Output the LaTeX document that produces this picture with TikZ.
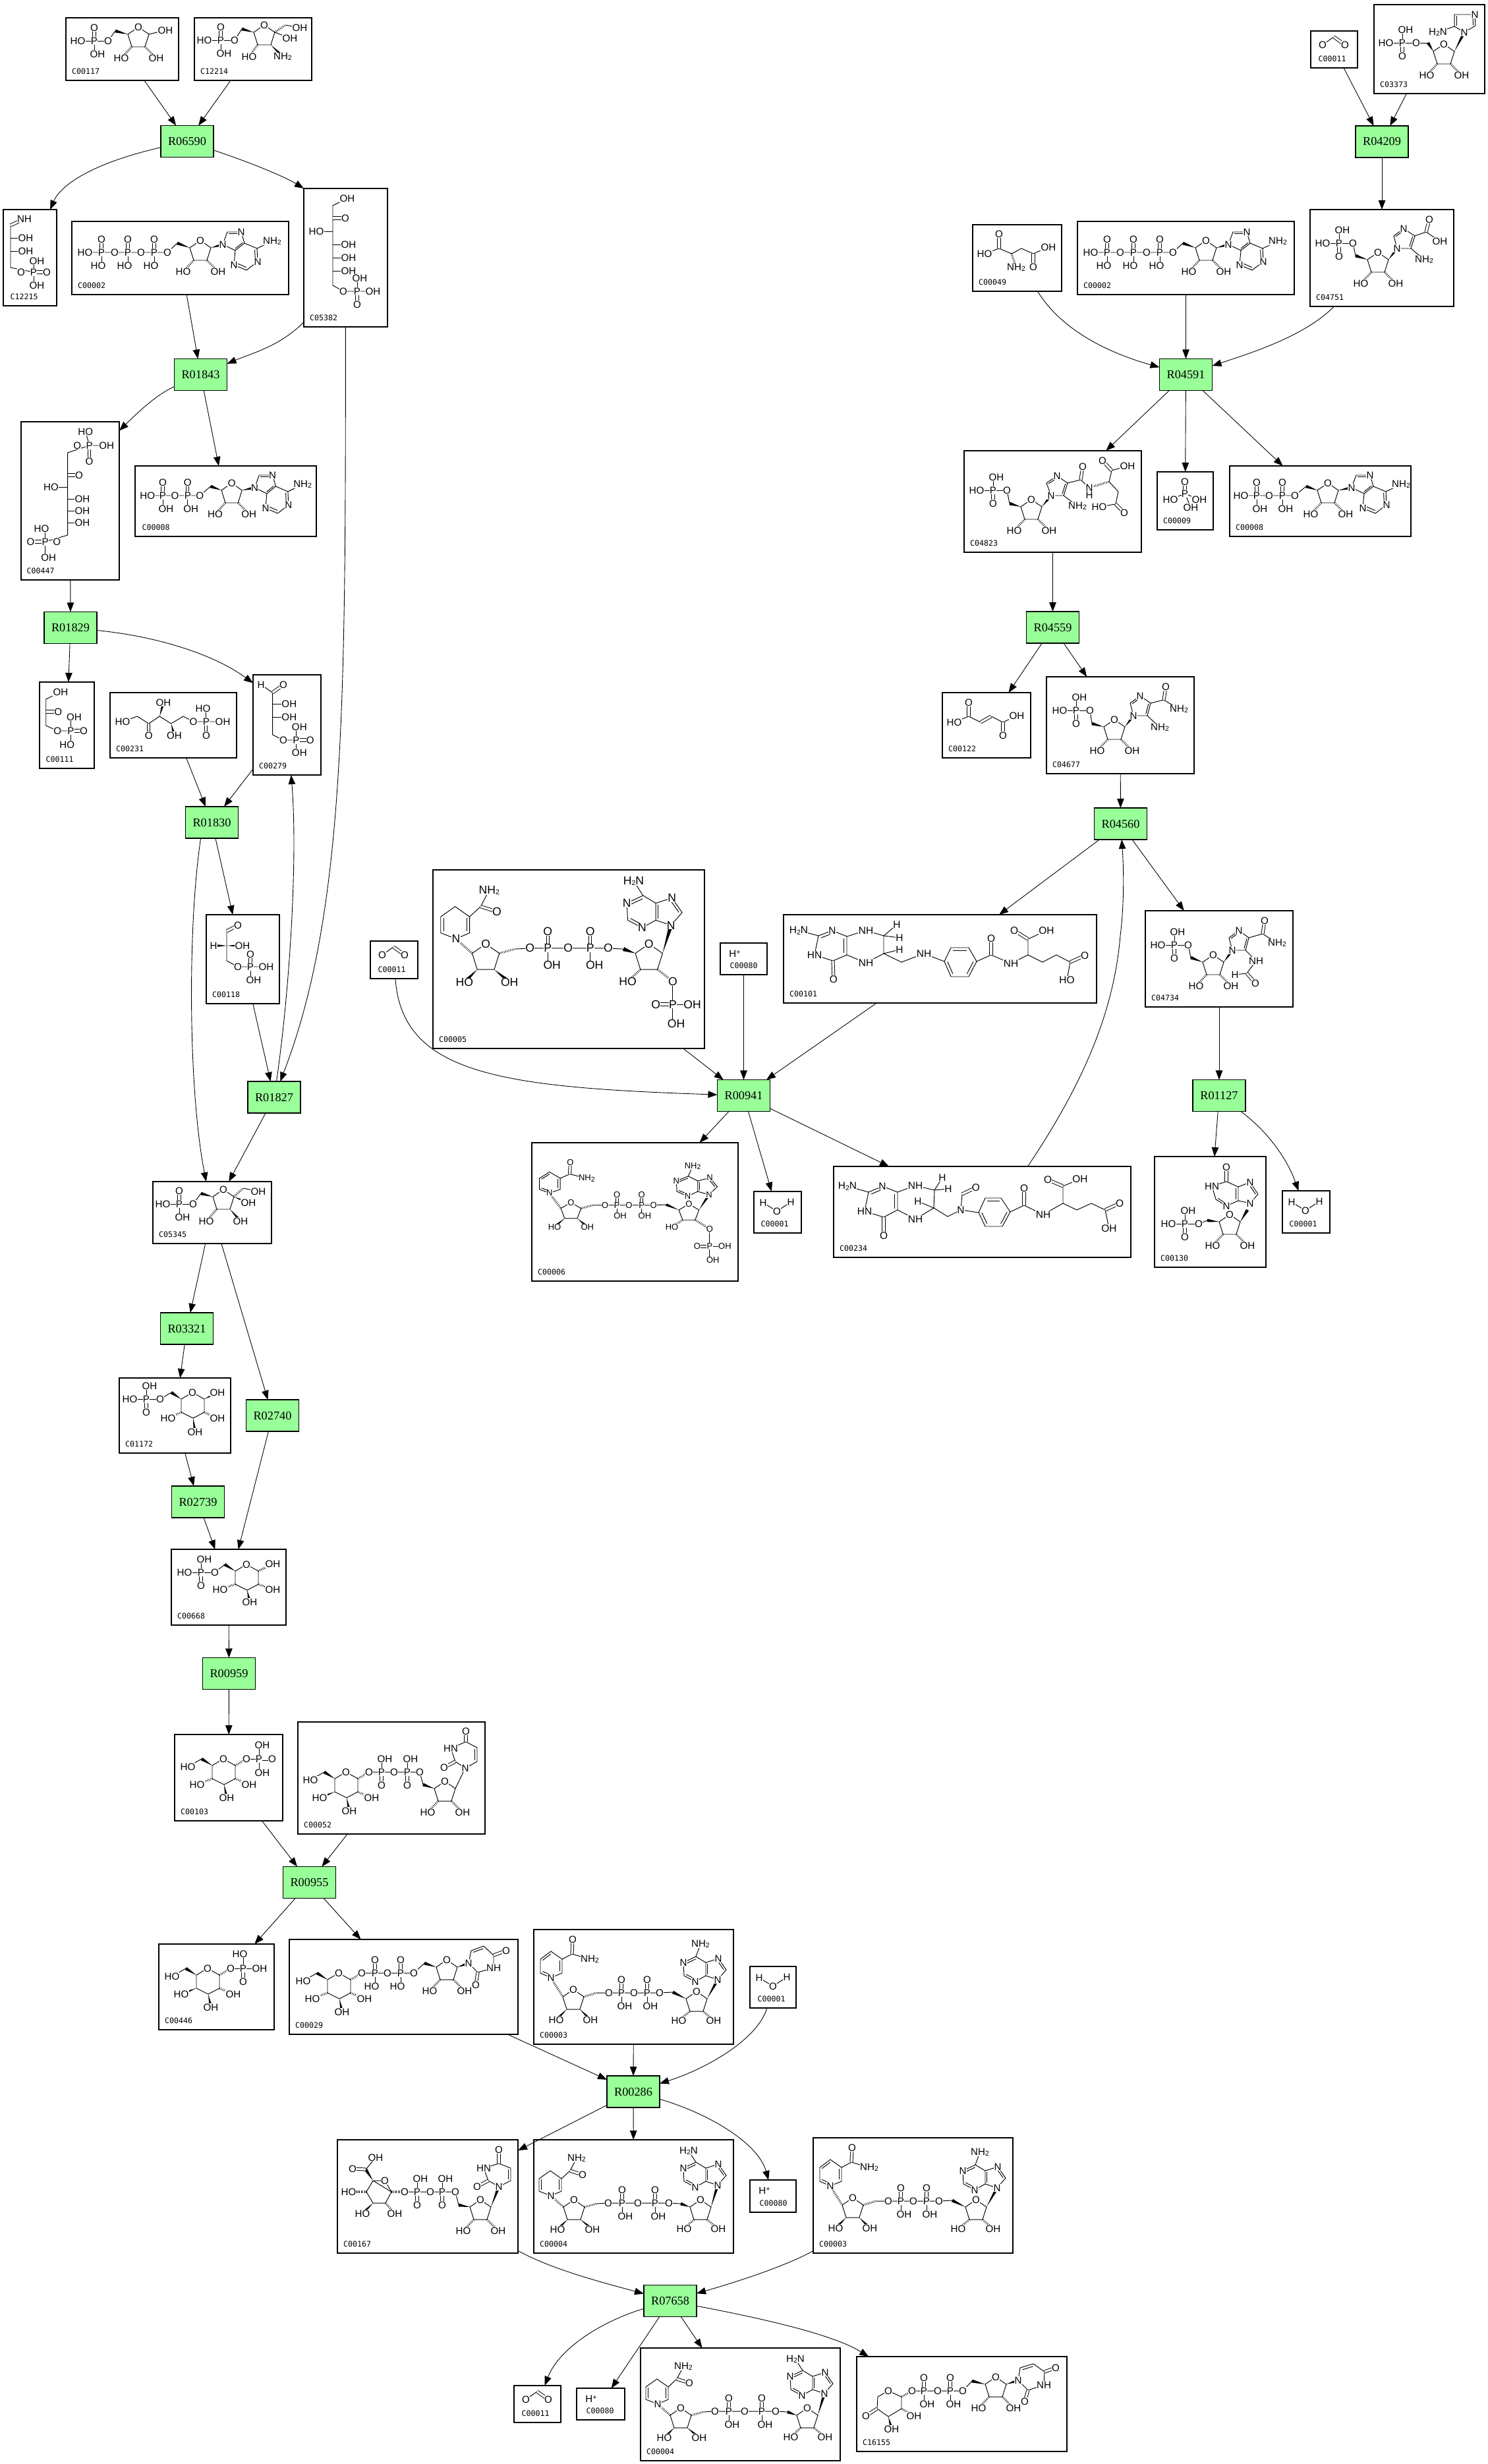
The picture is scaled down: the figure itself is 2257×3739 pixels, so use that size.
\documentclass[tikz,border=0pt]{standalone}
\usepackage{fontspec}
\usepackage{xcolor}
\setmainfont{Liberation Serif}
\setsansfont{Liberation Sans}
\setmonofont{DejaVu Sans Mono}
\usetikzlibrary{arrows.meta,calc}
\definecolor{rxngreen}{RGB}{153,255,153}

\tikzset{
  rxn/.style={draw, fill=rxngreen, line width=.35pt, inner sep=0pt, outer sep=0pt, minimum width=.8cm, minimum height=.48cm, font=\fontsize{5.2}{6}\selectfont\rmfamily},
  cbox/.style={draw, line width=.38pt, inner sep=0pt, outer sep=0pt},
  cid/.style={anchor=base west, inner sep=0pt, font=\fontsize{3.3}{4}\selectfont\ttfamily},
  atom/.style={fill=white, inner sep=.1pt, font=\fontsize{\fs}{\fs}\selectfont\sffamily},
  bond/.style={line width=.27pt},
  hashb/.style={line width=.9pt, dash pattern=on .2pt off .5pt},
  link/.style={-{Triangle[length=.14cm,width=.105cm]}, line width=.25pt},
}

\newcounter{atomno}
\newif\ifbondpass
\def\fs{4.3}
\newcommand{\nhtwo}{NH\lower.4pt\hbox{\fontsize{3}{3}\selectfont 2}}
\newcommand{\htwon}{H\lower.4pt\hbox{\fontsize{3}{3}\selectfont 2}N}
% compound box and its id
\newcommand{\cmp}[7][8.5]{%
  \pgfmathsetmacro\bw{(#5-#3)*.01}\pgfmathsetmacro\bh{(#6-#4)*.01}
  \node[cbox, minimum width=\bw cm, minimum height=\bh cm] (#2) at ({(#3+#5)/2},{(#4+#6)/2}) {};
  \node[cid] (#2id) at ($(#2.south west)+(#1,-10)$) {#7};}
% atoms and bonds: the structures run twice, bonds first, then atoms on top
\newcommand{\atoms}[1]{\ifbondpass\else\foreach \p/\t in {#1} {\stepcounter{atomno}\node[atom] (a\theatomno) at \p {\t};}\fi}
\newcommand{\bnd}[1]{\ifbondpass\draw[bond] #1;\fi}
\newcommand{\dbnd}[1]{\ifbondpass\draw[bond,double,double distance=.9pt] #1;\fi}
\newcommand{\dring}[3]{\bnd{($(#1)!.2!(#3)$) -- ($(#2)!.2!(#3)$)}}
\newcommand{\wdg}[2]{\ifbondpass\fill (#1) -- ($(#2)!.7pt!90:(#1)$) -- ($(#2)!.7pt!-90:(#1)$) -- cycle;\fi}
\newcommand{\hsh}[2]{\ifbondpass\draw[hashb] (#1) -- (#2);\fi}
% phosphates
\newcommand{\pup}[2]{\begin{scope}[shift={(#1,#2)}]\dbnd{(0,0)--(0,-20)}\bnd{(0,0)--(0,20)}\atoms{(0,0)/P,(0,-20)/O,(5,20)/OH}\end{scope}}
\newcommand{\pub}[2]{\begin{scope}[shift={(#1,#2)}]\dbnd{(0,0)--(0,-20)}\bnd{(0,0)--(0,20)}\atoms{(0,0)/P,(0,-20)/O,(-5,20)/HO}\end{scope}}
\newcommand{\pdn}[2]{\begin{scope}[shift={(#1,#2)}]\dbnd{(0,0)--(0,20)}\bnd{(0,0)--(0,-20)}\atoms{(0,0)/P,(5,-20)/OH,(0,20)/O}\end{scope}}
\newcommand{\monoup}[2]{\begin{scope}[shift={(#1,#2)}]\bnd{(-25,0)--(21,0)}\coordinate (po) at (21,0);\atoms{(-25,0)/HO,(21,0)/O}\pup{0}{0}\end{scope}}
\newcommand{\monodn}[2]{\begin{scope}[shift={(#1,#2)}]\bnd{(-25,0)--(21,0)}\coordinate (po) at (21,0);\atoms{(-25,0)/HO,(21,0)/O}\pdn{0}{0}\end{scope}}
% sugars
\newcommand{\ribring}[2]{\begin{scope}[shift={(#1,#2)}]
  \coordinate (rc1) at (16,11);\coordinate (rc2) at (10,30);\coordinate (rc3) at (-10,30);\coordinate (rc4) at (-16,11);
  \bnd{(0,0)--(rc1)--(rc2)--(rc3)--(rc4)--cycle}\atoms{(0,0)/O}\end{scope}}
\newcommand{\rib}[2]{\ribring{#1}{#2}\begin{scope}[shift={(#1,#2)}]
  \hsh{rc3}{-26,47}\hsh{rc2}{27,47}\atoms{(-26,47)/HO,(27,47)/OH}\end{scope}}
\newcommand{\ocm}[1]{\bnd{(po)--(#1)}\wdg{rc4}{#1}}
\newcommand{\pyr}[2]{\begin{scope}[shift={(#1,#2)}]
  \coordinate (pc5) at (-17,10);\coordinate (pc1) at (18,10);\coordinate (pc2) at (18,30);\coordinate (pc3) at (1,39);\coordinate (pc4) at (-17,30);
  \bnd{(0,0)--(pc1)--(pc2)--(pc3)--(pc4)--(pc5)--cycle}\atoms{(0,0)/O}\end{scope}}
\newcommand{\hexo}[3]{\pyr{#1}{#2}\begin{scope}[shift={(#1,#2)}]
  \wdg{pc5}{-33,0}\bnd{(-33,0)--(-54,12)}#3{pc4}{-40,39}\hsh{pc2}{39,39}\wdg{pc3}{5,59}\hsh{pc1}{35,0}
  \atoms{(-54,12)/HO,(-40,39)/HO,(39,39)/OH,(5,59)/OH,(35,0)/O}\end{scope}}
% adenine
\newcommand{\adeh}[2]{\begin{scope}[shift={(#1,#2)}]
  \bnd{(0,0)--(7,-19)--(28,-19)--(33,-2)--(19,9)--cycle}\dring{7,-19}{28,-19}{18,-5}\dring{33,-2}{19,9}{18,-5}
  \bnd{(33,-2)--(52,6)--(53,26)--(36,39)--(17,31)--(19,9)}\dring{52,6}{53,26}{35,17}\dring{36,39}{17,31}{35,17}
  \bnd{(52,6)--(75,-5)}\atoms{(0,0)/N,(28,-19)/N,(53,26)/N,(17,31)/N,(75,-5)/\nhtwo}\end{scope}}
\newcommand{\adev}[5]{\begin{scope}[shift={(#1,#2)}]
  \bnd{(0,0)--(13,-15)--(1,-32)--(-18,-26)--(-18,-6)--cycle}\dring{13,-15}{1,-32}{-6,-16}\dring{-18,-26}{-18,-6}{-6,-16}
  \bnd{(-18,-26)--(-33,-35)--(-52,-26)--(-51,-6)--(-34,3)--(-18,-6)}\dring{-33,-35}{-52,-26}{-35,-16}\dring{-51,-6}{-34,3}{-35,-16}
  \bnd{(-33,-35)--(#3,#4)}\atoms{(0,0)/N,(1,-32)/N,(-52,-26)/N,(-34,3)/N,(#3,#4)/#5}\end{scope}}
\newcommand{\atp}[2]{\begin{scope}[shift={(#1,#2)}]
  \rib{0}{0}\wdg{rc4}{-35,4}\wdg{rc1}{34,6}\bnd{(-35,4)--(-50,18)--(-175,18)}
  \atoms{(-50,18)/O,(-90,18)/O,(-130,18)/O,(-175,18)/HO}\pub{-70}{18}\pub{-110}{18}\pub{-150}{18}\adeh{34}{6}\end{scope}}
\newcommand{\adp}[2]{\begin{scope}[shift={(#1,#2)}]
  \rib{0}{0}\wdg{rc4}{-33,5}\wdg{rc1}{36,7}\bnd{(-33,5)--(-50,19)--(-132,19)}
  \atoms{(-50,19)/O,(-89,19)/O,(-132,19)/HO}\pup{-69}{19}\pup{-108}{19}\adeh{36}{7}\end{scope}}
% pyridine nucleotides, #1 and #2 give the group on the last ribose
\newcommand{\nadox}[2]{
  \bnd{(26,73)--(43,66)--(43,45)--(26,33)--(10,45)--(10,66)--cycle}\dring{43,66}{43,45}{26,53}\dring{26,33}{10,45}{26,53}\dring{10,66}{26,73}{26,53}
  \bnd{(43,45)--(58,37)--(85,45)}\dbnd{(58,37)--(59,15)}\atoms{(26,73)/N,(59,15)/O,(85,45)/\nhtwo}
  \ribring{60}{91}\hsh{26,73}{rc4}\hsh{rc1}{95,96}\wdg{rc3}{34,137}\wdg{rc2}{86,137}\atoms{(34,137)/HO,(86,137)/OH}
  \bnd{(95,96)--(191,96)--(211,95)}\atoms{(114,96)/O,(152,96)/O,(191,96)/O}\pup{133}{96}\pup{172}{96}
  \ribring{247}{94}\wdg{rc4}{211,95}\wdg{rc1}{279,76}\hsh{rc3}{220,138}\hsh{rc2}{#1}\atoms{(220,138)/HO,(#1)/#2}
  \adev{279}{76}{-26}{-54}{\nhtwo}}
\newcommand{\nadred}[2]{
  \bnd{(26,85)--(42,78)--(42,59)--(25,47)--(8,59)--(8,78)--cycle}\dring{42,78}{42,59}{25,66}\dring{8,59}{8,78}{25,66}
  \bnd{(42,59)--(55,47)--(65,28)}\dbnd{(55,47)--(74,53)}\atoms{(26,85)/N,(74,53)/O,(65,28)/\nhtwo}
  \ribring{61}{91}\hsh{26,85}{rc4}\hsh{rc1}{95,97}\wdg{rc3}{36,136}\wdg{rc2}{89,136}\atoms{(36,136)/HO,(89,136)/OH}
  \bnd{(95,97)--(113,96)--(205,96)--(223,97)}\atoms{(113,96)/O,(158,96)/O,(205,96)/O}\pup{134}{96}\pup{184}{96}
  \ribring{253}{91}\wdg{rc4}{223,97}\wdg{rc1}{279,69}\hsh{rc3}{228,135}\hsh{rc2}{#1}\atoms{(228,135)/HO,(#1)/#2}
  \adev{279}{69}{-44}{-52}{\htwon}}
\newcommand{\formate}{\bnd{(18,21)--(35,9)}\dbnd{(35,9)--(52,21)}\atoms{(18,21)/O,(52,21)/O}}
\newcommand{\water}{\bnd{(14,17)--(35,30)--(56,16)}\atoms{(14,17)/H,(35,30)/O,(56,16)/H}}
\newcommand{\proton}{\atoms{(22,16)/H\raisebox{1.2pt}{\fontsize{3}{3}\selectfont+}}}

\newcommand{\structures}{
    % Structures, top left
    \monoup{143}{62}\rib{210}{41}\ocm{175,47}\bnd{(rc1)--(251,46)}\atoms{(251,46)/OH}
    \monoup{335}{61}\ribring{401}{38}\ocm{367,44}\hsh{rc3}{378,86}\wdg{rc2}{429,86}\hsh{rc1}{433,38}\bnd{(433,38)--(455,42)}\bnd{(rc1)--(440,58)}
    \atoms{(378,86)/HO,(429,86)/\nhtwo,(455,42)/OH,(440,58)/OH}
    \bnd{(16,342)--(16,406)--(51,413)--(71,413)}\dbnd{(16,342)--(37,332)}\bnd{(16,361)--(39,361)}\bnd{(16,381)--(39,381)}\bnd{(51,396)--(51,433)}\dbnd{(51,413)--(71,413)}
    \atoms{(37,332)/NH,(39,361)/OH,(39,381)/OH,(32,413)/O,(51,413)/P,(56,396)/OH,(56,433)/OH,(71,413)/O}
    \atp{304}{365}
    \bnd{(527,301)--(505,312)--(505,433)--(521,442)--(566,442)}\dbnd{(505,331)--(524,331)}\bnd{(480,351)--(505,351)}\bnd{(505,371)--(529,371)}\bnd{(505,391)--(529,391)}\bnd{(505,411)--(529,411)}\bnd{(542,442)--(542,422)}\dbnd{(542,442)--(542,462)}
    \atoms{(527,301)/OH,(524,331)/O,(480,351)/HO,(529,371)/OH,(529,391)/OH,(529,411)/OH,(521,442)/O,(542,442)/P,(546,422)/OH,(566,442)/OH,(542,462)/O}
    \begin{scope}[xscale=.9687]
    \adp{363}{733}
    \bnd{(140,676)--(106,687)--(106,812)--(71,822)}\bnd{(134,655)--(140,676)--(167,676)}\dbnd{(140,676)--(140,700)}\dbnd{(106,721)--(124,721)}\bnd{(80,739)--(106,739)}\bnd{(106,757)--(129,757)}\bnd{(106,775)--(129,775)}\bnd{(106,793)--(129,793)}\bnd{(71,802)--(71,846)}\dbnd{(71,822)--(48,822)}
    \atoms{(121,676)/O,(140,676)/P,(134,655)/HO,(167,676)/OH,(140,700)/O,(124,721)/O,(80,739)/HO,(129,757)/OH,(129,775)/OH,(129,793)/OH,(89,822)/O,(71,822)/P,(65,802)/HO,(48,822)/O,(76,846)/OH}
    \bnd{(95,1050)--(72,1061)--(72,1101)--(90,1109)--(111,1109)}\dbnd{(72,1080)--(91,1080)}\bnd{(111,1088)--(111,1130)}\dbnd{(111,1109)--(131,1109)}
    \atoms{(95,1050)/OH,(91,1080)/O,(90,1109)/O,(111,1109)/P,(116,1088)/OH,(105,1130)/HO,(131,1109)/O}
    \bnd{(192,1095)--(215,1087)--(233,1098)--(250,1087)--(268,1098)--(287,1087)--(303,1095)--(349,1095)}\dbnd{(233,1098)--(233,1116)}\wdg{250,1087}{256,1066}\wdg{268,1098}{273,1116}\bnd{(323,1075)--(323,1095)}\dbnd{(323,1095)--(323,1116)}
    \atoms{(192,1095)/HO,(233,1116)/O,(256,1066)/OH,(273,1116)/OH,(303,1095)/O,(323,1095)/P,(318,1075)/HO,(349,1095)/OH,(323,1116)/O}
    \bnd{(409,1039)--(427,1051)--(427,1115)--(444,1123)--(464,1123)}\dbnd{(427,1051)--(444,1039)}\bnd{(427,1068)--(453,1068)}\bnd{(427,1088)--(453,1088)}\bnd{(464,1103)--(464,1142)}\dbnd{(464,1123)--(486,1123)}
    \atoms{(409,1039)/H,(444,1039)/O,(453,1068)/OH,(453,1088)/OH,(444,1123)/O,(464,1123)/P,(469,1103)/OH,(469,1142)/OH,(486,1123)/O}
    \end{scope}
    \dbnd{(344,1413)--(361,1404)}\bnd{(344,1413)--(344,1458)--(361,1467)--(404,1467)}\wdg{344,1435}{324,1435}\wdg{344,1435}{368,1435}\dbnd{(380,1467)--(380,1448)}\bnd{(380,1467)--(380,1487)}
    \atoms{(361,1404)/O,(324,1435)/H,(368,1435)/OH,(361,1467)/O,(380,1467)/P,(380,1448)/O,(404,1467)/OH,(385,1487)/OH}
    % Structures, sugars below
    \monoup{272}{1827}\ribring{339}{1805}\ocm{305,1811}\hsh{rc3}{313,1853}\wdg{rc2}{365,1853}\wdg{rc1}{377,1825}\hsh{rc1}{369,1803}\bnd{(369,1803)--(392,1808)}
    \atoms{(313,1853)/HO,(365,1853)/OH,(377,1825)/OH,(392,1808)/OH}
    \monodn{222}{2123}\pyr{292}{2113}\bnd{(po)--(260,2113)}\wdg{pc5}{260,2113}\wdg{pc1}{330,2113}\hsh{pc2}{330,2152}\wdg{pc3}{296,2173}\hsh{pc4}{255,2152}
    \atoms{(330,2113)/OH,(330,2152)/OH,(296,2173)/OH,(255,2152)/HO}
    \monodn{305}{2386}\pyr{374}{2374}\bnd{(po)--(341,2374)}\wdg{pc5}{341,2374}\hsh{pc1}{414,2373}\hsh{pc2}{414,2412}\wdg{pc3}{379,2431}\hsh{pc4}{334,2412}
    \atoms{(414,2373)/OH,(414,2412)/OH,(379,2431)/OH,(334,2412)/HO}
    \hexo{339}{2669}{\hsh}\bnd{(374,2669)--(393,2669)}\dbnd{(393,2669)--(413,2669)}\bnd{(393,2648)--(393,2690)}
    \atoms{(393,2669)/P,(398,2648)/OH,(413,2669)/O,(398,2690)/OH}
    \hexo{525}{2689}{\wdg}\bnd{(560,2689)--(637,2689)--(642,2708)}\pdn{579}{2689}\pdn{618}{2689}\atoms{(598,2689)/O,(637,2689)/O}
    \rib{675}{2703}\wdg{rc4}{642,2708}\bnd{(rc1)--(706,2683)--(691,2673)--(684,2653)--(707,2643)--(724,2652)--(724,2673)--(706,2683)}\dbnd{(691,2673)--(674,2682)}\dbnd{(707,2643)--(707,2627)}\dring{724,2652}{724,2673}{707,2663}
    \atoms{(706,2683)/N,(674,2682)/O,(684,2653)/HN,(707,2627)/O}
    \hexo{315}{2987}{\wdg}\bnd{(350,2987)--(369,2987)--(394,2987)}\bnd{(369,2965)--(369,2987)}\dbnd{(369,2987)--(369,3007)}
    \atoms{(369,2987)/P,(364,2965)/HO,(394,2987)/OH,(369,3007)/O}
    \hexo{514}{2994}{\hsh}\bnd{(549,2994)--(628,2994)--(644,2979)}\pub{569}{2994}\pub{608}{2994}\atoms{(588,2994)/O,(628,2994)/O}
    \rib{678}{2974}\wdg{rc4}{644,2979}\wdg{rc1}{711,2979}\bnd{(711,2979)--(725,2993)--(749,2986)--(749,2967)--(734,2953)--(715,2960)--(711,2979)}\dbnd{(725,2993)--(722,3012)}\dbnd{(749,2967)--(768,2960)}\dring{734,2953}{715,2960}{731,2972}
    \atoms{(711,2979)/N,(722,3012)/O,(749,2986)/NH,(768,2960)/O}
    \bnd{(566,3309)--(594,3326)--(585,3343)--(566,3343)--(556,3326)--(566,3309)}\bnd{(566,3309)--(584,3309)--(594,3326)}\wdg{566,3309}{555,3292}\dbnd{(555,3292)--(535,3291)}\bnd{(555,3292)--(570,3274)}\hsh{556,3326}{529,3326}\wdg{566,3343}{550,3359}\hsh{585,3343}{599,3359}\hsh{594,3326}{614,3326}
    \bnd{(614,3326)--(691,3326)--(696,3346)}\pdn{633}{3326}\pdn{671}{3326}\atoms{(584,3309)/O,(535,3291)/O,(570,3274)/OH,(529,3326)/HO,(550,3359)/HO,(599,3359)/OH,(614,3326)/O,(653,3326)/O,(691,3326)/O}
    \rib{729}{3338}\wdg{rc4}{696,3346}\wdg{rc1}{757,3318}\bnd{(757,3318)--(741,3309)--(734,3290)--(757,3283)--(775,3290)--(775,3309)--(757,3318)}\dbnd{(741,3309)--(724,3318)}\dbnd{(757,3283)--(757,3262)}\dring{775,3290}{775,3309}{757,3300}
    \atoms{(757,3318)/N,(724,3318)/O,(734,3290)/HN,(757,3262)/O}
    \bnd{(1348,3628)--(1368,3637)--(1368,3655)--(1348,3667)--(1331,3655)--(1332,3637)--(1348,3628)}\dbnd{(1331,3655)--(1314,3666)}\hsh{1368,3655}{1387,3666}\wdg{1348,3667}{1353,3686}\hsh{1368,3637}{1384,3628}
    \bnd{(1384,3628)--(1461,3628)--(1475,3613)}\pup{1402}{3628}\pup{1442}{3628}\atoms{(1348,3628)/O,(1314,3666)/O,(1387,3666)/OH,(1353,3686)/OH,(1384,3628)/O,(1423,3628)/O,(1461,3628)/O}
    \rib{1511}{3607}\wdg{rc4}{1475,3613}\wdg{rc1}{1545,3612}\bnd{(1545,3612)--(1560,3627)--(1584,3619)--(1585,3599)--(1568,3587)--(1548,3593)--(1545,3612)}\dbnd{(1560,3627)--(1555,3644)}\dbnd{(1585,3599)--(1602,3593)}\dring{1568,3587}{1548,3593}{1565,3607}
    \atoms{(1545,3612)/N,(1555,3644)/O,(1584,3619)/NH,(1602,3593)/O}
    % Structures, pyridine nucleotides and small ones
    \begin{scope}[shift={(810,2928)}]\nadox{273,138}{OH}\end{scope}
    \begin{scope}[shift={(1234,3244)}]\nadox{273,138}{OH}\end{scope}
    \begin{scope}[shift={(810,3247)}]\nadred{280,135}{OH}\end{scope}
    \begin{scope}[shift={(972,3563)}]\nadred{280,135}{OH}\end{scope}
    \begin{scope}[shift={(658.4,1315)},scale=1.29]\def\fs{5}\nadred{281,135}{O}
      \bnd{(281,135)--(281,185)}\bnd{(281,162)--(304,162)}\dbnd{(281,162)--(261,162)}\atoms{(281,162)/P,(261,162)/O,(304,162)/OH,(285,185)/OH}\end{scope}
    \begin{scope}[shift={(809,1752)},xscale=.957,yscale=.8]\def\fs{3.7}\nadox{280,141}{O}
      \bnd{(280,141)--(280,200)}\bnd{(280,174)--(304,174)}\dbnd{(280,174)--(260,174)}\atoms{(280,174)/P,(260,174)/O,(304,174)/OH,(285,200)/OH}\end{scope}
    \begin{scope}[shift={(1989,47)}]\formate\end{scope}
    \begin{scope}[shift={(562,1428)}]\formate\end{scope}
    \begin{scope}[shift={(780,3620)}]\formate\end{scope}
    \begin{scope}[shift={(1946,1807)}]\water\end{scope}
    \begin{scope}[shift={(1144,1808)}]\water\end{scope}
    \begin{scope}[shift={(1138,2984)}]\water\end{scope}
    \begin{scope}[shift={(1138,3308)}]\proton\end{scope}
    \begin{scope}[shift={(1093,1431)}]\proton\end{scope}
    \begin{scope}[shift={(875,3624)}]\proton\end{scope}
    % Structures, right side
    \monodn{2128}{65}\rib{2191}{67}\ocm{2167,65}\wdg{rc1}{2222,49}\bnd{(2222,49)--(2207,40)--(2207,22)--(2238,22)--(2239,39)--(2222,49)}\dring{2207,40}{2207,22}{2222,33}\dring{2238,22}{2239,39}{2222,33}\bnd{(2207,40)--(2182,49)}
    \atoms{(2222,49)/N,(2238,22)/N,(2182,49)/\htwon}
    \monodn{2032}{369}\rib{2091}{383}\ocm{2057,388}\wdg{rc1}{2120,377}\bnd{(2120,377)--(2115,358)--(2130,347)--(2147,358)--(2141,377)--(2120,377)}\dring{2115,358}{2130,347}{2130,362}\dring{2147,358}{2141,377}{2130,362}\bnd{(2147,358)--(2164,352)--(2185,366)}\dbnd{(2164,352)--(2169,333)}\bnd{(2141,377)--(2161,394)}
    \atoms{(2120,377)/N,(2130,347)/N,(2169,333)/O,(2185,366)/OH,(2161,394)/\nhtwo}
    \atp{1830}{365}
    \bnd{(1494,385)--(1516,377)--(1535,385)--(1550,377)--(1568,385)--(1591,375)}\dbnd{(1516,377)--(1516,355)}\dbnd{(1568,385)--(1568,405)}\hsh{1535,385}{1542,406}
    \atoms{(1516,355)/O,(1494,385)/HO,(1542,406)/\nhtwo,(1591,375)/OH,(1568,405)/O}
    \monodn{1507}{744}\rib{1565}{758}\ocm{1532,764}\wdg{rc1}{1595,752}\bnd{(1595,752)--(1588,733)--(1604,722)--(1620,733)--(1614,752)--(1595,752)}\dring{1588,733}{1604,722}{1604,738}\dring{1620,733}{1614,752}{1604,738}\bnd{(1614,752)--(1635,768)}\bnd{(1620,733)--(1640,728)--(1653,740)}\dbnd{(1640,728)--(1643,708)}\hsh{1653,740}{1683,731}\bnd{(1683,731)--(1687,714)--(1711,707)}\dbnd{(1687,714)--(1673,699)}\bnd{(1683,731)--(1697,746)--(1693,765)--(1668,769)}\dbnd{(1693,765)--(1706,778)}
    \atoms{(1595,752)/N,(1604,722)/N,(1635,768)/\nhtwo,(1643,708)/O,(1653,740)/N,(1653,751)/H,(1673,699)/O,(1711,707)/OH,(1668,769)/HO,(1706,778)/O}
    \dbnd{(1798,749)--(1798,731)}\bnd{(1776,758)--(1798,749)--(1820,758)}\bnd{(1798,749)--(1807,770)}\atoms{(1798,731)/O,(1798,749)/P,(1776,758)/HO,(1820,758)/OH,(1807,770)/OH}
    \adp{2015}{733}
    \bnd{(1448,1096)--(1470,1087)--(1488,1096)}\dbnd{(1470,1087)--(1470,1066)}\dbnd{(1488,1096)--(1504,1087)}\bnd{(1504,1087)--(1522,1096)--(1543,1086)}\dbnd{(1522,1096)--(1522,1116)}
    \atoms{(1470,1066)/O,(1448,1096)/HO,(1543,1086)/OH,(1522,1116)/O}
    \monodn{1633}{1078}\rib{1691}{1092}\ocm{1657,1098}\wdg{rc1}{1720,1086}\bnd{(1720,1086)--(1715,1067)--(1730,1056)--(1746,1067)--(1741,1086)--(1720,1086)}\dring{1715,1067}{1730,1056}{1730,1072}\dring{1746,1067}{1741,1086}{1730,1072}\bnd{(1746,1067)--(1766,1062)--(1789,1076)}\dbnd{(1766,1062)--(1769,1042)}\bnd{(1741,1086)--(1760,1104)}
    \atoms{(1720,1086)/N,(1730,1056)/N,(1769,1042)/O,(1789,1076)/\nhtwo,(1760,1104)/\nhtwo}
    \monodn{1782}{1434}\rib{1841}{1449}\ocm{1807,1453}\wdg{rc1}{1870,1442}\bnd{(1870,1442)--(1865,1423)--(1880,1412)--(1895,1423)--(1890,1442)--(1870,1442)}\dring{1865,1423}{1880,1412}{1880,1428}\dring{1895,1423}{1890,1442}{1880,1428}\bnd{(1895,1423)--(1916,1417)--(1938,1431)}\dbnd{(1916,1417)--(1919,1397)}\bnd{(1890,1442)--(1906,1458)--(1892,1477)--(1874,1479)}\dbnd{(1892,1477)--(1905,1492)}
    \atoms{(1870,1442)/N,(1880,1412)/N,(1919,1397)/O,(1938,1431)/\nhtwo,(1906,1458)/NH,(1874,1479)/H,(1905,1492)/O}
    \monodn{1798}{1857}\rib{1866}{1843}\ocm{1832,1852}\wdg{rc1}{1893,1836}\dbnd{(1861,1793)--(1861,1771)}\bnd{(1861,1793)--(1839,1800)--(1845,1820)--(1861,1830)--(1879,1822)--(1879,1801)--(1861,1793)}\bnd{(1879,1801)--(1897,1794)--(1909,1812)--(1897,1826)--(1879,1822)}\dring{1845,1820}{1861,1830}{1860,1812}\dring{1879,1822}{1879,1801}{1860,1812}\dring{1897,1794}{1909,1812}{1890,1812}
    \atoms{(1861,1771)/O,(1839,1800)/HN,(1861,1830)/N,(1897,1794)/N,(1897,1826)/N}
    % Structures, folates
    \begin{scope}\def\fs{4.4}
    \bnd{(1212,1412)--(1242,1420)--(1263,1412)--(1285,1421)--(1285,1449)--(1264,1458)--(1236,1449)--(1242,1420)}\dring{1242,1420}{1263,1412}{1262,1435}\dring{1285,1421}{1285,1449}{1262,1435}\dbnd{(1264,1458)--(1265,1486)}
    \bnd{(1285,1421)--(1314,1412)--(1341,1420)--(1341,1447)--(1314,1461)--(1285,1449)}\bnd{(1341,1420)--(1361,1403)}\bnd{(1341,1420)--(1365,1423)}\bnd{(1341,1447)--(1365,1441)}\bnd{(1341,1447)--(1368,1460)--(1402,1447)--(1433,1459)}
    \bnd{(1433,1459)--(1443,1438)--(1470,1438)--(1482,1459)--(1470,1482)--(1443,1482)--cycle}\dring{1443,1438}{1470,1438}{1457,1460}\dring{1482,1459}{1470,1482}{1457,1460}\dring{1443,1482}{1433,1459}{1457,1460}
    \bnd{(1482,1459)--(1504,1449)--(1534,1462)--(1560,1449)--(1560,1425)--(1588,1412)}\dbnd{(1504,1449)--(1504,1424)}\dbnd{(1560,1425)--(1539,1412)}\bnd{(1560,1449)--(1582,1460)--(1603,1449)--(1624,1460)--(1619,1487)}\dbnd{(1624,1460)--(1646,1450)}
    \atoms{(1212,1412)/\htwon,(1263,1412)/N,(1236,1449)/HN,(1265,1486)/O,(1314,1412)/NH,(1361,1403)/H,(1365,1423)/H,(1365,1441)/H,(1314,1461)/NH,(1402,1447)/NH,(1504,1424)/O,(1534,1462)/NH,(1539,1412)/O,(1588,1412)/OH,(1646,1450)/O,(1619,1487)/HO}
    \bnd{(1286,1800)--(1318,1809)--(1339,1800)--(1362,1809)--(1362,1836)--(1341,1847)--(1312,1838)--(1318,1809)}\dring{1318,1809}{1339,1800}{1338,1824}\dring{1362,1809}{1362,1836}{1338,1824}\dbnd{(1341,1847)--(1341,1875)}
    \bnd{(1362,1809)--(1389,1799)--(1418,1806)--(1417,1833)--(1389,1850)--(1362,1836)}\bnd{(1418,1806)--(1430,1787)}\bnd{(1418,1806)--(1439,1804)}\bnd{(1417,1833)--(1393,1823)}\bnd{(1417,1833)--(1438,1846)--(1458,1836)--(1485,1840)}\bnd{(1458,1836)--(1460,1812)}\dbnd{(1460,1812)--(1481,1802)}
    \bnd{(1485,1840)--(1495,1818)--(1519,1818)--(1533,1839)--(1521,1861)--(1495,1861)--cycle}\dring{1495,1818}{1519,1818}{1509,1840}\dring{1533,1839}{1521,1861}{1509,1840}\dring{1495,1861}{1485,1840}{1509,1840}
    \bnd{(1533,1839)--(1554,1829)--(1583,1843)--(1613,1826)--(1613,1800)--(1639,1789)}\dbnd{(1554,1829)--(1554,1803)}\dbnd{(1613,1800)--(1590,1790)}\bnd{(1613,1826)--(1634,1836)--(1656,1826)--(1677,1836)--(1683,1864)}\dbnd{(1677,1836)--(1699,1826)}
    \atoms{(1286,1800)/\htwon,(1339,1800)/N,(1312,1838)/HN,(1341,1875)/O,(1389,1799)/NH,(1430,1787)/H,(1439,1804)/H,(1393,1823)/H,(1389,1850)/NH,(1458,1836)/N,(1481,1802)/O,(1554,1803)/O,(1583,1843)/NH,(1590,1790)/O,(1639,1789)/OH,(1699,1826)/O,(1683,1864)/OH}
    \end{scope}
}

\begin{document}
\begin{tikzpicture}[x=.01cm,y=-.01cm]
    \useasboundingbox (0,0) rectangle (2257,3739);

    % Reactions
    \node[rxn] (r06590) at (284,214.5) {R06590};
    \node[rxn] (r01843) at (304.5,568.5) {R01843};
    \node[rxn] (r01829) at (107,952.5) {R01829};
    \node[rxn] (r01830) at (321.5,1248) {R01830};
    \node[rxn] (r01827) at (416,1665) {R01827};
    \node[rxn] (r03321) at (283.5,2016) {R03321};
    \node[rxn] (r02740) at (413.5,2148) {R02740};
    \node[rxn] (r02739) at (300.5,2279) {R02739};
    \node[rxn] (r00959) at (347.5,2539.5) {R00959};
    \node[rxn] (r00955) at (469.5,2856.5) {R00955};
    \node[rxn] (r00286) at (961,3174) {R00286};
    \node[rxn] (r07658) at (1017,3491.5) {R07658};
    \node[rxn] (r00941) at (1128.5,1662.5) {R00941};
    \node[rxn] (r04209) at (2097,215) {R04209};
    \node[rxn] (r04591) at (1799.5,568.5) {R04591};
    \node[rxn] (r04559) at (1597.5,952) {R04559};
    \node[rxn] (r04560) at (1700.5,1250) {R04560};
    \node[rxn] (r01127) at (1850,1662.5) {R01127};

    % Compounds
    \cmp{c00117}{100}{27}{271}{122}{C00117}
    \cmp{c12214}{295}{27}{473}{122}{C12214}
    \cmp[10]{c12215}{5}{318}{86}{464}{C12215}
    \cmp{c00002a}{109}{336}{438}{447}{C00002}
    \cmp{c05382}{461}{286}{588}{496}{C05382}
    \cmp[8]{c00447}{32}{640}{181}{880}{C00447}
    \cmp[10]{c00008a}{205}{707}{480}{814}{C00008}
    \cmp[9]{c00111}{60}{1035}{143}{1166}{C00111}
    \cmp{c00231}{167}{1051}{359}{1150}{C00231}
    \cmp{c00279}{384}{1024}{487}{1176}{C00279}
    \cmp{c00118}{313}{1388}{424}{1523}{C00118}
    \cmp{c05345}{232}{1793}{412}{1887}{C05345}
    \cmp{c01172}{181}{2091}{350}{2205}{C01172}
    \cmp{c00668}{260}{2351}{434}{2466}{C00668}
    \cmp{c00103}{265}{2632}{429}{2763}{C00103}
    \cmp{c00052}{452}{2613}{736}{2783}{C00052}
    \cmp{c00446}{241}{2950}{416}{3080}{C00446}
    \cmp{c00029}{439}{2943}{786}{3087}{C00029}
    \cmp{c00003a}{810}{2928}{1113}{3102}{C00003}
    \cmp[11]{c00001c}{1138}{2984}{1208}{3047}{C00001}
    \cmp{c00167}{512}{3247}{786}{3419}{C00167}
    \cmp{c00004a}{810}{3247}{1113}{3419}{C00004}
    \cmp[14]{c00080c}{1138}{3308}{1208}{3357}{C00080}
    \cmp{c00003b}{1234}{3244}{1537}{3419}{C00003}
    \cmp[11]{c00011c}{780}{3620}{851}{3676}{C00011}
    \cmp[14]{c00080d}{875}{3624}{948}{3672}{C00080}
    \cmp{c00004b}{972}{3563}{1275}{3734}{C00004}
    \cmp{c16155}{1300}{3576}{1619}{3720}{C16155}
    \cmp[11]{c00011b}{562}{1428}{634}{1485}{C00011}
    \cmp{c00005}{657}{1320}{1069}{1591}{C00005}
    \cmp[14]{c00080b}{1093}{1431}{1164}{1479}{C00080}
    \cmp{c00101}{1189}{1388}{1664}{1522}{C00101}
    \cmp{c00006}{807}{1734}{1120}{1944}{C00006}
    \cmp[10]{c00001b}{1144}{1808}{1216}{1871}{C00001}
    \cmp{c00234}{1265}{1770}{1716}{1908}{C00234}
    \cmp{c04734}{1738}{1382}{1962}{1528}{C04734}
    \cmp{c00130}{1752}{1755}{1921}{1923}{C00130}
    \cmp[10]{c00001a}{1946}{1807}{2018}{1871}{C00001}
    \cmp[11]{c00011a}{1989}{47}{2060}{103}{C00011}
    \cmp{c03373}{2085}{7}{2253}{142}{C03373}
    \cmp{c04751}{1988}{318}{2206}{465}{C04751}
    \cmp{c00049}{1476}{341}{1611}{442}{C00049}
    \cmp{c00002b}{1635}{336}{1964}{447}{C00002}
    \cmp{c04823}{1463}{684}{1732}{838}{C04823}
    \cmp{c00009}{1756}{716}{1841}{804}{C00009}
    \cmp{c00008b}{1866}{707}{2141}{814}{C00008}
    \cmp{c00122}{1430}{1051}{1564}{1150}{C00122}
    \cmp{c04677}{1588}{1027}{1812}{1174}{C04677}

    % Structures inside the boxes
    \bondpasstrue\structures
    \bondpassfalse\structures

    % Reaction links, left branch
    \draw[link] (c00117) -- (r06590);
    \draw[link] (c12214) -- (r06590);
    \draw[link] (r06590) .. controls (130,250) and (90,285) .. (c12215);
    \draw[link] (r06590) .. controls (390,250) and (435,270) .. (c05382.north west);
    \draw[link] (c00002a) -- (r01843);
    \draw[link] (c05382.237) .. controls (425,525) and (385,535) .. (r01843);
    \draw[link] (c05382) .. controls (524,1050) and (526,1380) .. (r01827);
    \draw[link] (r01843) .. controls (235,600) and (205,630) .. (c00447.55);
    \draw[link] (r01843) -- (c00008a);
    \draw[link] (c00447) -- (r01829);
    \draw[link] (r01829) -- (c00111);
    \draw[link] (r01829) .. controls (232,965) and (320,990) .. (c00279.129);
    \draw[link] (c00231) -- (r01830);
    \draw[link] (c00279) -- (r01830);
    \draw[link] (r01830) -- (c00118);
    \draw[link] (r01830.235) .. controls (285,1400) and (285,1650) .. (c05345);
    \draw[link] (c00118) -- (r01827);
    \draw[link] (r01827) .. controls (440,1500) and (452,1300) .. (c00279);
    \draw[link] (r01827) -- (c05345);
    \draw[link] (c05345) -- (r03321);
    \draw[link] (c05345) -- (r02740);
    \draw[link] (r03321) -- (c01172);
    \draw[link] (c01172) -- (r02739);
    \draw[link] (r02739) -- (c00668);
    \draw[link] (r02740) -- (c00668);
    \draw[link] (c00668) -- (r00959);
    \draw[link] (r00959) -- (c00103);
    \draw[link] (c00103) -- (r00955);
    \draw[link] (c00052) -- (r00955);
    \draw[link] (r00955) -- (c00446);
    \draw[link] (r00955) -- (c00029);
    \draw[link] (c00029) -- (r00286);
    \draw[link] (c00003a) -- (r00286);
    \draw[link] (c00001c) .. controls (1150,3095) and (1070,3140) .. (r00286);
    \draw[link] (r00286) -- (c00167);
    \draw[link] (r00286) -- (c00004a);
    \draw[link] (r00286) .. controls (1070,3205) and (1150,3250) .. (c00080c);
    \draw[link] (c00167.-31) .. controls (840,3445) and (920,3465) .. (r07658);
    \draw[link] (c00003b.209) .. controls (1190,3440) and (1110,3465) .. (r07658);
    \draw[link] (r07658) .. controls (920,3520) and (850,3560) .. (c00011c);
    \draw[link] (r07658) -- (c00080d);
    \draw[link] (r07658) -- (c00004b);
    \draw[link] (r07658) .. controls (1140,3515) and (1260,3540) .. (c16155.153);

    % Reaction links, right branch
    \draw[link] (c00011b) .. controls (610,1630) and (760,1650) .. (r00941);
    \draw[link] (c00005) -- (r00941);
    \draw[link] (c00080b) -- (r00941);
    \draw[link] (c00101) -- (r00941);
    \draw[link] (r00941) -- (c00006);
    \draw[link] (r00941) -- (c00001b);
    \draw[link] (r00941) -- (c00234);
    \draw[link] (c00234.45) .. controls (1640,1650) and (1690,1540) .. (1700,1420) .. controls (1705,1380) and (1706,1330) .. (r04560);
    \draw[link] (r04560) -- (c00101);
    \draw[link] (r04560) -- (c04734);
    \draw[link] (c04677) -- (r04560);
    \draw[link] (c04734) -- (r01127);
    \draw[link] (r01127) -- (c00130);
    \draw[link] (r01127) .. controls (1915,1710) and (1950,1750) .. (c00001a);
    \draw[link] (c00011a) -- (r04209);
    \draw[link] (c03373) -- (r04209);
    \draw[link] (r04209) -- (c04751);
    \draw[link] (c00049) .. controls (1610,500) and (1680,535) .. (r04591);
    \draw[link] (c00002b) -- (r04591);
    \draw[link] (c04751) .. controls (1980,510) and (1900,535) .. (r04591);
    \draw[link] (r04591) -- (c04823);
    \draw[link] (r04591) -- (c00009);
    \draw[link] (r04591) -- (c00008b);
    \draw[link] (c04823) -- (r04559);
    \draw[link] (r04559) -- (c00122);
    \draw[link] (r04559) -- (c04677);
\end{tikzpicture}
\end{document}
